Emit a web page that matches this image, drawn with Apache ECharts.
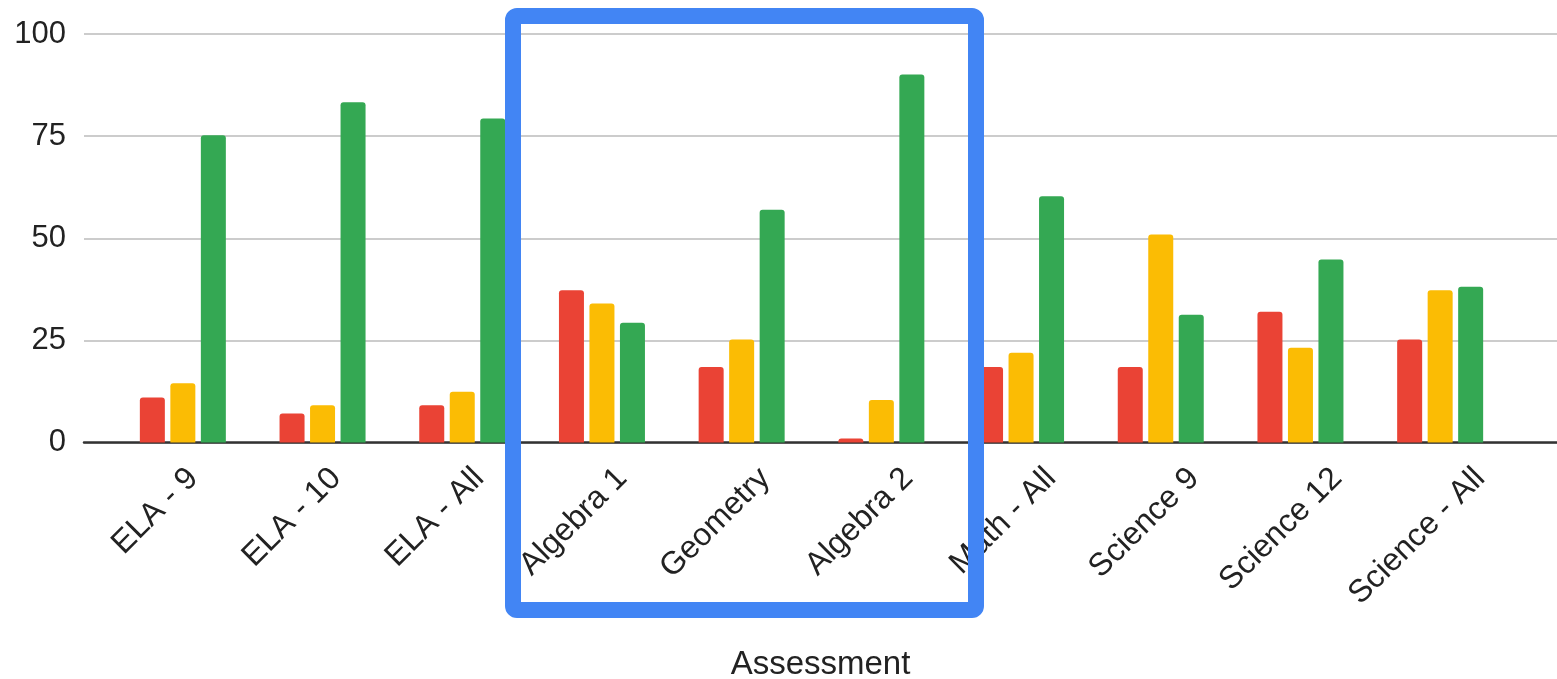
<!DOCTYPE html>
<html>
<head>
<meta charset="utf-8">
<script src="https://cdn.jsdelivr.net/npm/echarts@6/dist/echarts.min.js"></script>
<style>html,body{margin:0;padding:0;background:#fff;}#c{width:1557px;height:679px;}</style>
</head>
<body>
<div id="c"></div>
<script>
const categories = ['ELA - 9','ELA - 10','ELA - All','Algebra 1','Geometry','Algebra 2','Math - All','Science 9','Science 12','Science - All'];
const redValues    = [11.0, 7.1, 9.1, 37.3, 18.5, 1.0, 18.5, 18.5, 32.0, 25.2];
const yellowValues = [14.5, 9.1, 12.4, 34.0, 25.2, 10.4, 22.0, 50.9, 23.2, 37.3];
const greenValues  = [75.2, 83.3, 79.3, 29.3, 57.0, 90.1, 60.3, 31.3, 44.8, 38.1];
const yTicks = [0, 25, 50, 75, 100];
const xTitle = 'Assessment';

const font = 'Liberation Sans, Arial, sans-serif';
const chart = echarts.init(document.getElementById('c'));
const barStyle = (c) => ({ color: c, borderRadius: [3,3,0,0] });
chart.setOption({
  animation: false,
  grid: [
    { left: 84, right: 0, top: 34, bottom: 236.5, outerBoundsMode: 'none', containLabel: false },
    { left: 113, right: 47, top: 34, bottom: 236.5, outerBoundsMode: 'none', containLabel: false },
    { left: 121.5, right: 5.5, top: 34, bottom: 236.5, outerBoundsMode: 'none', containLabel: false }
  ],
  xAxis: [
    { gridIndex: 0, type: 'value', min: 0, max: 1,
      axisLine: { show: true, onZero: false, lineStyle: { color: '#333', width: 2.5 } },
      axisTick: { show: false }, axisLabel: { show: false }, splitLine: { show: false },
      name: xTitle, nameLocation: 'middle', nameGap: 206,
      nameTextStyle: { fontSize: 33, color: '#222', fontFamily: font } },
    { gridIndex: 1, type: 'category', data: categories,
      axisLine: { show: false }, axisTick: { show: false }, axisLabel: { show: false } },
    { gridIndex: 2, type: 'category', data: categories,
      axisLine: { show: false }, axisTick: { show: false },
      axisLabel: { rotate: 45, fontSize: 32, color: '#222', fontFamily: font, margin: 31, interval: 0 } }
  ],
  yAxis: [
    { gridIndex: 0, type: 'value', min: yTicks[0], max: yTicks[yTicks.length-1], interval: 25,
      axisLine: { show: false }, axisTick: { show: false },
      axisLabel: { fontSize: 31, color: '#222', fontFamily: font, margin: 18 },
      splitLine: { lineStyle: { color: '#cccccc', width: 2 } } },
    { gridIndex: 1, type: 'value', min: 0, max: 100, show: false, splitLine: { show: false } },
    { gridIndex: 2, type: 'value', min: 0, max: 100, show: false, splitLine: { show: false } }
  ],
  series: [
    { type: 'bar', xAxisIndex: 1, yAxisIndex: 1, data: redValues, barWidth: 25, barGap: '22%', itemStyle: barStyle('#EA4335'), z: 3 },
    { type: 'bar', xAxisIndex: 1, yAxisIndex: 1, data: yellowValues, barWidth: 25, barGap: '22%', itemStyle: barStyle('#FBBC04'), z: 3 },
    { type: 'bar', xAxisIndex: 1, yAxisIndex: 1, data: greenValues, barWidth: 25, barGap: '22%', itemStyle: barStyle('#34A853'), z: 3 }
  ],
  graphic: [
    { type: 'rect', z: 100, shape: { x: 513, y: 16, width: 463, height: 594, r: 4 },
      style: { fill: null, stroke: '#4285F4', lineWidth: 16 } }
  ]
});
</script>
</body>
</html>
